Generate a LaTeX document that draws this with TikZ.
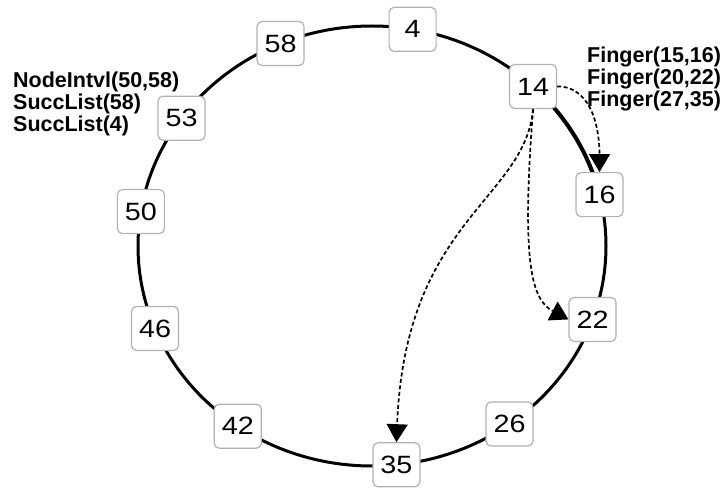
\documentclass[tikz,border=0pt]{standalone}
\usepackage{fontspec}
\setmainfont{Liberation Sans}
\newfontfamily\peerfont[FakeStretch=1.15]{Liberation Sans}
\usetikzlibrary{arrows.meta}
\tikzset{
	x=1pt, y=1pt,
	every text node part/.style= {
		align=left
	},
	peer/.style= {
		rectangle,
		rounded corners=5pt,
		draw=black!30,
		line width=1.2pt,
		fill=white,
		minimum width=47pt,
		minimum height=44pt,
		inner sep=0pt,
		font=\peerfont\fontsize{25}{28}\selectfont
	},
	ring/.style= {
		black,
		line width=3pt
	},
	finger/.style= {
		dash pattern=on 4pt off 2.5pt,
		line width=1.7pt,
		-{Triangle[length=18pt, width=21pt]}
	},
	note/.style= {
		font=\bfseries\fontsize{21.5}{22}\selectfont,
		inner sep=0pt,
		anchor=north west
	}
}

\begin{document}
\begin{tikzpicture}
	\useasboundingbox (0,0) rectangle (724,-489);
	
	\coordinate (c) at (372,-246);
	\draw[ring] (c) ellipse [x radius=234pt, y radius=220pt];
	\draw[ring, line width=4pt] ([shift={(c)}]46.5:234pt and 220pt) arc [start angle=46.5, end angle=13.5, x radius=234pt, y radius=220pt];
	
	\node (n4)[peer] at ([shift={(c)}]80:234pt and 220pt) {4};
	\node (n14)[peer] at ([shift={(c)}]46.5:234pt and 220pt) {14};
	\node (n16)[peer] at ([shift={(c)}]13.5:234pt and 220pt) {16};
	\node (n22)[peer] at ([shift={(c)}]-19.5:234pt and 220pt) {22};
	\node (n26)[peer] at ([shift={(c)}]-54:234pt and 220pt) {26};
	\node (n35)[peer] at ([shift={(c)}]-84:234pt and 220pt) {35};
	\node (n42)[peer] at ([shift={(c)}]-125:234pt and 220pt) {42};
	\node (n46)[peer] at ([shift={(c)}]-158:234pt and 220pt) {46};
	\node (n50)[peer] at ([shift={(c)}]171:234pt and 220pt) {50};
	\node (n53)[peer] at ([shift={(c)}]144.5:234pt and 220pt) {53};
	\node (n58)[peer] at ([shift={(c)}]113:234pt and 220pt) {58};
	
	\node (fingers)[note] at (587,-47) {Finger(15,16)\\Finger(20,22)\\Finger(27,35)};
	\node (succ)[note] at (13,-72) {NodeIntvl(50,58)\\SuccList(58)\\SuccList(4)};
	
	%fingers of 14
	\draw[finger] (n14.east) to[out=0, in=90] (n16.north);
	\draw[finger] (n14.south) .. controls (521,-265) and (532,-300) .. (n22.west);
	\draw[finger] (n14.south) .. controls (525,-200) and (405,-220) .. (n35.north);
	
\end{tikzpicture}
\end{document}
